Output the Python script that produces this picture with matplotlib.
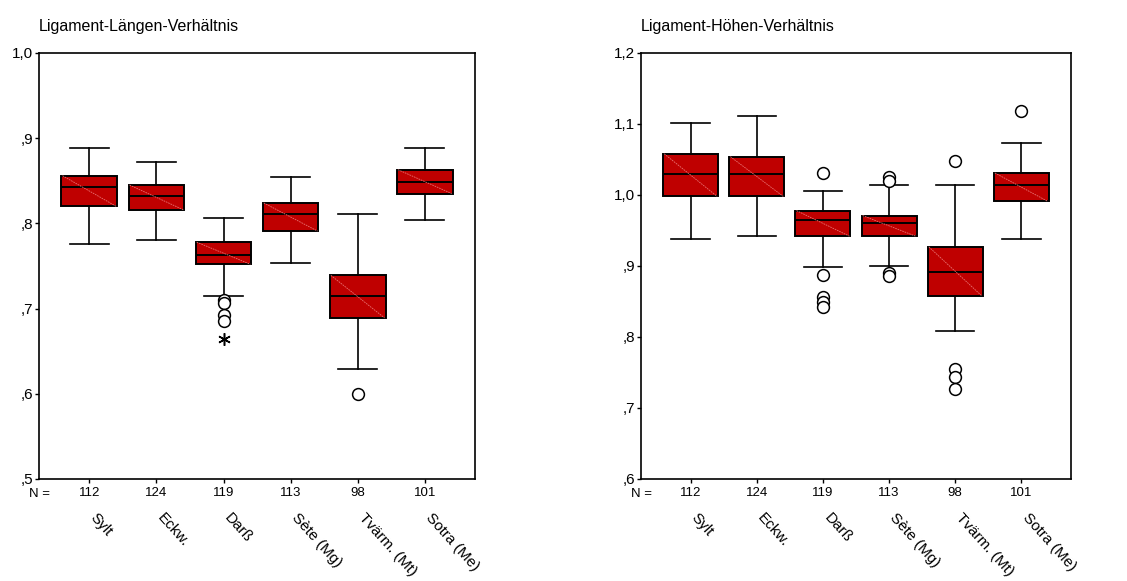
import matplotlib
matplotlib.use('Agg')
import matplotlib.pyplot as plt

plt.rcParams['font.family'] = ['Liberation Sans', 'DejaVu Sans']

groups = ['Sylt', 'Eckw.', 'Darß', 'Sète (Mg)', 'Tvärm. (Mt)', 'Sotra (Me)']
n_values = [112, 124, 119, 113, 98, 101]

# Ligament-Längen-Verhältnis: whislo, q1, med, q3, whishi
len_lo = [0.776, 0.780, 0.715, 0.754, 0.629, 0.804]
len_q1 = [0.820, 0.816, 0.752, 0.791, 0.689, 0.835]
len_med = [0.843, 0.832, 0.763, 0.811, 0.715, 0.848]
len_q3 = [0.856, 0.845, 0.778, 0.824, 0.739, 0.863]
len_hi = [0.889, 0.872, 0.806, 0.854, 0.811, 0.889]
len_out = [[], [], [0.710, 0.706, 0.692, 0.685], [], [0.600], []]
len_ext = [[], [], [0.664], [], [], []]

# Ligament-Höhen-Verhältnis
hoe_lo = [0.938, 0.942, 0.898, 0.900, 0.809, 0.938]
hoe_q1 = [0.998, 0.998, 0.942, 0.942, 0.858, 0.991]
hoe_med = [1.029, 1.029, 0.965, 0.960, 0.891, 1.014]
hoe_q3 = [1.058, 1.054, 0.978, 0.971, 0.927, 1.031]
hoe_hi = [1.102, 1.111, 1.005, 1.014, 1.014, 1.073]
hoe_out = [[], [], [1.031, 0.887, 0.856, 0.849, 0.842],
           [1.026, 1.019, 0.890, 0.886], [1.048, 0.755, 0.743, 0.727], [1.118]]
hoe_ext = [[], [], [], [], [], []]

box_red = '#bf0000'


def fmt(v):
    s = '%.1f' % v
    if s.startswith('0'):
        s = s[1:]
    return s.replace('.', ',')


def draw(ax, title, lo, q1, med, q3, hi, out, ext, yticks):
    stats = []
    for i in range(len(groups)):
        stats.append(dict(whislo=lo[i], q1=q1[i], med=med[i], q3=q3[i],
                          whishi=hi[i], fliers=out[i]))
    pos = list(range(1, len(groups) + 1))
    ax.bxp(stats, positions=pos, widths=0.83, patch_artist=True,
           showfliers=True,
           boxprops=dict(facecolor=box_red, edgecolor='black', linewidth=1.4),
           medianprops=dict(color='black', linewidth=1.4),
           whiskerprops=dict(color='black', linewidth=1.2),
           capprops=dict(color='black', linewidth=1.2),
           capwidths=0.58,
           flierprops=dict(marker='o', markerfacecolor='white',
                           markeredgecolor='black', markersize=8.5,
                           markeredgewidth=1.1))
    # thin light diagonal inside each box
    for i in range(len(groups)):
        ax.plot([pos[i] - 0.40, pos[i] + 0.40], [q3[i], q1[i]],
                color='#e87070', linewidth=0.6, linestyle=(0, (2, 1)),
                zorder=3)
        for e in ext[i]:
            ax.plot(pos[i], e, marker=(6, 2, 0), color='black',
                    markersize=9, markeredgewidth=1.1, zorder=4)
    ax.set_xlim(0.25, 6.75)
    ax.set_ylim(yticks[0], yticks[-1])
    ax.set_yticks(yticks)
    ax.set_yticklabels([fmt(v) for v in yticks], fontsize=11)
    ax.set_xticks(pos)
    ax.set_xticklabels([str(n) for n in n_values], fontsize=9.5)
    ax.tick_params(axis='both', direction='out', length=3, width=1, pad=3)
    ax.tick_params(axis='y', pad=1)
    for s in ax.spines.values():
        s.set_linewidth(1.2)
    ax.text(-0.024, -0.022, 'N =', transform=ax.transAxes, fontsize=9.5,
            ha='left', va='top')
    for i, g in enumerate(groups):
        ax.text(pos[i] + 0.13, -0.075, g, transform=ax.get_xaxis_transform(),
                rotation=-48, rotation_mode='anchor', ha='left', va='top',
                fontsize=11)
    ax.set_title(title, loc='left', fontsize=11.5, pad=16)


fig = plt.figure(figsize=(11.27, 5.81), dpi=100)
ax1 = fig.add_axes([0.0346, 0.1756, 0.387, 0.7332])
ax2 = fig.add_axes([0.5688, 0.1756, 0.3815, 0.7332])

draw(ax1, 'Ligament-Längen-Verhältnis', len_lo, len_q1, len_med, len_q3,
     len_hi, len_out, len_ext, [0.5, 0.6, 0.7, 0.8, 0.9, 1.0])
draw(ax2, 'Ligament-Höhen-Verhältnis', hoe_lo, hoe_q1, hoe_med, hoe_q3,
     hoe_hi, hoe_out, hoe_ext, [0.6, 0.7, 0.8, 0.9, 1.0, 1.1, 1.2])

fig.savefig('out.png', dpi=100)
